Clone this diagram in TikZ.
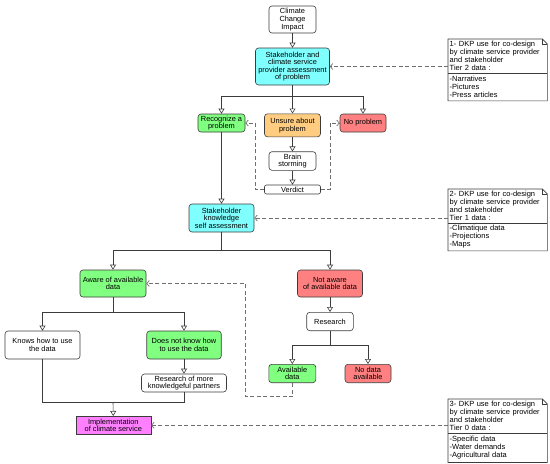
\documentclass[tikz,border=0pt]{standalone}
\usepackage{fontspec}
\setmainfont{Liberation Sans}
\usetikzlibrary{arrows.meta}
\definecolor{cyanfill}{RGB}{128,255,255}
\definecolor{greenfill}{RGB}{128,255,128}
\definecolor{orangefill}{RGB}{255,204,128}
\definecolor{redfill}{RGB}{255,128,128}
\definecolor{magfill}{RGB}{255,128,255}
\definecolor{edgecol}{RGB}{60,60,60}
\definecolor{dashcol}{RGB}{110,110,110}
\begin{document}
\begin{tikzpicture}[x=1pt,y=-1pt,
  box/.style={draw=edgecol, line width=0.6pt, rounded corners=3pt, align=center, inner sep=0pt,
    font=\fontsize{7.4}{7.6}\selectfont, fill=white},
  conn/.style={draw=edgecol, line width=0.6pt, -{Triangle[open,length=5pt,width=6pt]}},
  plain/.style={draw=edgecol, line width=0.6pt},
  dconn/.style={draw=dashcol, line width=0.7pt, dash pattern=on 4pt off 2.5pt,
    -{Straight Barb[length=2.5pt,width=6pt]}},
  notepart/.style={anchor=north west, minimum width=99pt, text width=96pt, inner xsep=1.5pt,
    inner ysep=0pt, align=left, font=\fontsize{7.5}{7.9}\selectfont},
  notel/.style={draw=edgecol, line width=0.6pt}
]
\useasboundingbox (0,0) rectangle (550,464);

% nodes
\node[box, minimum width=47pt, minimum height=27pt] (cci) at (292.5,19.5) {Climate\\Change\\Impact};
\node[box, fill=cyanfill, minimum width=74pt, minimum height=37pt] (sa) at (292.5,66.5) {Stakeholder and\\climate service\\provider assessment\\of problem};
\node[box, fill=greenfill, minimum width=47pt, minimum height=18pt] (rec) at (221.5,123) {Recognize a\\problem};
\node[box, fill=orangefill, minimum width=56pt, minimum height=23pt] (uns) at (292.5,125.3) {Unsure about\\problem};
\node[box, fill=redfill, minimum width=46pt, minimum height=18pt] (nop) at (363,123) {No problem};
\node[box, minimum width=47pt, minimum height=18.6pt] (bra) at (292.5,161) {Brain\\storming};
\node[box, rounded corners=2pt, minimum width=56pt, minimum height=9pt] (ver) at (292.5,189.5) {Verdict};
\node[box, fill=cyanfill, minimum width=65pt, minimum height=28pt] (ska) at (221.5,218) {Stakeholder\\knowledge\\self assessment};
\node[box, fill=greenfill, minimum width=66pt, minimum height=27pt] (awa) at (113,283.5) {Aware of available\\data};
\node[box, fill=redfill, minimum width=65pt, minimum height=27pt] (nawa) at (330,283.5) {Not aware\\of available data};
\node[box, minimum width=46.6pt, minimum height=18.4pt] (res) at (330,321.5) {Research};
\node[box, fill=greenfill, minimum width=47pt, minimum height=18.4pt] (avd) at (292.3,373.5) {Available\\data};
\node[box, fill=redfill, minimum width=46pt, minimum height=18.4pt] (nod) at (368,373.5) {No data\\available};
\node[box, minimum width=75pt, minimum height=28pt] (knw) at (42.5,345) {Knows how to use\\the data};
\node[box, fill=greenfill, minimum width=74.5pt, minimum height=28pt] (dnk) at (184,345) {Does not know how\\to use the data};
\node[box, minimum width=85pt, minimum height=18pt] (rmk) at (184,383) {Research of more\\knowledgeful partners};
\node[box, fill=magfill, rounded corners=0pt, minimum width=75pt, minimum height=18pt] (imp) at (113.3,425.3) {Implementation\\of climate service};

% branch points
\coordinate (b1) at (292.5,96);
\coordinate (b2) at (221.5,250.7);
\coordinate (b3) at (113,312);
\coordinate (b4) at (330,345.3);
\coordinate (b5) at (113,402);
\coordinate (c1) at (245.7,396.7);

% solid connectors
\draw[conn] (cci.south) -- (sa.north);
\draw[plain] (sa.south) -- (b1);
\draw[conn] (b1) -| (rec.north);
\draw[conn] (b1) -- (uns.north);
\draw[conn] (b1) -| (nop.north);
\draw[conn] (uns.south) -- (bra.north);
\draw[conn] (bra.south) -- (ver.north);
\draw[conn] (rec.south) -- (ska.north);
\draw[plain] (ska.south) -- (b2);
\draw[conn] (b2) -| (awa.north);
\draw[conn] (b2) -| (nawa.north);
\draw[conn] (nawa.south) -- (res.north);
\draw[plain] (res.south) -- (b4);
\draw[conn] (b4) -| (avd.north);
\draw[conn] (b4) -| (nod.north);
\draw[plain] (awa.south) -- (b3);
\draw[conn] (b3) -| (knw.north);
\draw[conn] (b3) -| (dnk.north);
\draw[conn] (dnk.south) -- (rmk.north);
\draw[plain] (knw.south) |- (b5);
\draw[plain] (rmk.south) |- (b5);
\draw[conn] (b5) -- (imp.north);

% dashed connectors
\draw[dconn] (ver.west) -- ++(-9.3,0) |- (rec.east);
\draw[dconn] (ver.east) -- ++(9.3,0) |- (nop.west);
\draw[dconn] (avd.south) |- (c1) |- (awa.east);

% notes
\node[notepart, minimum height=33.7pt] (n1a) at (448,39) {1- DKP use for co-design\\by climate service provider\\and stakeholder\\Tier 2 data :};
\node[notepart, minimum height=27.3pt] (n1b) at (n1a.south west) {-Narratives\\-Pictures\\-Press articles};
\node[notepart, minimum height=33.7pt] (n2a) at (448,189) {2- DKP use for co-design\\by climate service provider\\and stakeholder\\Tier 1 data :};
\node[notepart, minimum height=27.3pt] (n2b) at (n2a.south west) {-Climatique data\\-Projections\\-Maps};
\node[notepart, minimum height=33.7pt] (n3a) at (448,399) {3- DKP use for co-design\\by climate service provider\\and stakeholder\\Tier 0 data :};
\node[notepart, minimum height=29pt] (n3b) at (n3a.south west) {-Specific data\\-Water demands\\-Agricultural data};

\foreach \a/\b in {n1a/n1b,n2a/n2b,n3a/n3b}{
  \draw[notel] (\b.south west) -- (\a.north west) -- ([xshift=-5pt]\a.north east)
    -- ([yshift=-5pt]\a.north east) -- (\b.south east) -- cycle;
  \draw[notel] ([xshift=-5pt]\a.north east) |- ([yshift=-5pt]\a.north east);
  \draw[notel] (\a.south west) -- (\a.south east);
}

\draw[dconn] (n1a.west |- sa.east) -- (sa.east);
\draw[dconn] (n2a.west |- ska.east) -- (ska.east);
\draw[dconn] (n3a.west |- imp.east) -- (imp.east);
\end{tikzpicture}
\end{document}
